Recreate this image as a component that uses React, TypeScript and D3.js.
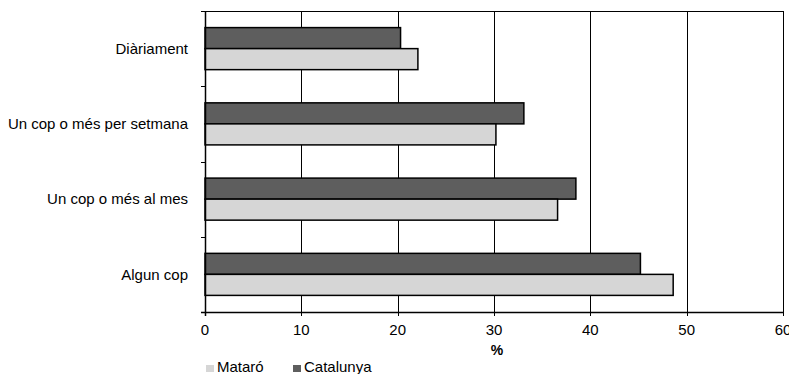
import React from "react";
import * as d3 from "d3";

const categories = ["Diàriament", "Un cop o més per setmana", "Un cop o més al mes", "Algun cop"];
const series = ["Catalunya", "Mataró"];
const catalunya = [20.3, 33.1, 38.5, 45.2];
const mataro = [22.1, 30.2, 36.6, 48.6];
const xTicks = [0, 10, 20, 30, 40, 50, 60];
const legendItems = ["Mataró", "Catalunya"];

const colors: Record<string, string> = { "Mataró": "#d6d6d6", "Catalunya": "#5e5e5e" };
const FONT = "'Liberation Sans', Arial, Helvetica, sans-serif";

export default function App() {
  const W = 789, H = 374;
  const left = 205, right = 783, top = 11, bottom = 312;
  const x = d3.scaleLinear().domain([0, 60]).range([left, right]);
  const y = d3.scaleBand<string>().domain(categories).range([top, bottom]).padding(0);
  const sub = d3.scaleBand<string>().domain(series).range([0, y.bandwidth()]).paddingInner(0).paddingOuter(0.79);
  const values: Record<string, number[]> = { "Catalunya": catalunya, "Mataró": mataro };
  const boundaries = d3.range(categories.length + 1).map(i => top + i * y.step());

  return (
    <svg width={W} height={H} style={{ position: "absolute", left: 0, top: 0, background: "#fff" }} fontFamily={FONT}>
      {/* top border */}
      <line x1={left} x2={right} y1={top + 0.5} y2={top + 0.5} stroke="#000" strokeWidth={1} />
      {/* gridlines */}
      {xTicks.filter(t => t > 0).map(t => (
        <line key={"g" + t} x1={Math.round(x(t)) + 0.5} x2={Math.round(x(t)) + 0.5} y1={top} y2={bottom} stroke="#000" strokeWidth={1} />
      ))}
      {/* bars */}
      {categories.map((c, i) =>
        series.map(s => {
          const v = values[s][i];
          const y0 = (y(c) as number) + (sub(s) as number);
          return (
            <rect key={c + s} x={x(0)} y={y0} width={x(v) - x(0)} height={sub.bandwidth()}
              fill={colors[s]} stroke="#000" strokeWidth={1.5} />
          );
        })
      )}
      {/* y axis */}
      <line x1={left + 0.5} x2={left + 0.5} y1={top} y2={bottom + 4} stroke="#000" strokeWidth={1.5} />
      {boundaries.map((b, i) => (
        <line key={"yt" + i} x1={left - 4} x2={left} y1={Math.round(b) + 0.5} y2={Math.round(b) + 0.5} stroke="#000" strokeWidth={1} />
      ))}
      {/* x axis */}
      <line x1={left - 4} x2={right} y1={bottom + 0.5} y2={bottom + 0.5} stroke="#000" strokeWidth={1.5} />
      {xTicks.map(t => (
        <g key={"xt" + t}>
          <line x1={Math.round(x(t)) + 0.5} x2={Math.round(x(t)) + 0.5} y1={bottom} y2={bottom + 4} stroke="#000" strokeWidth={1} />
          <text x={x(t)} y={bottom + 23} textAnchor="middle" fontSize={15} fill="#000">{t}</text>
        </g>
      ))}
      {/* category labels */}
      {categories.map(c => (
        <text key={"l" + c} x={188} y={(y(c) as number) + y.bandwidth() / 2} dy="0.35em" textAnchor="end" fontSize={15} fill="#000">{c}</text>
      ))}
      {/* axis title */}
      <text x={497} y={355} textAnchor="middle" fontSize={14} fontWeight="bold" fill="#000">%</text>
      {/* legend */}
      {legendItems.map((s, i) => {
        const lx = i === 0 ? 206 : 293;
        return (
          <g key={"lg" + s}>
            <rect x={lx} y={365} width={8} height={7} fill={colors[s]} />
            <text x={lx + 11} y={372} fontSize={15} fill="#000">{s}</text>
          </g>
        );
      })}
    </svg>
  );
}
